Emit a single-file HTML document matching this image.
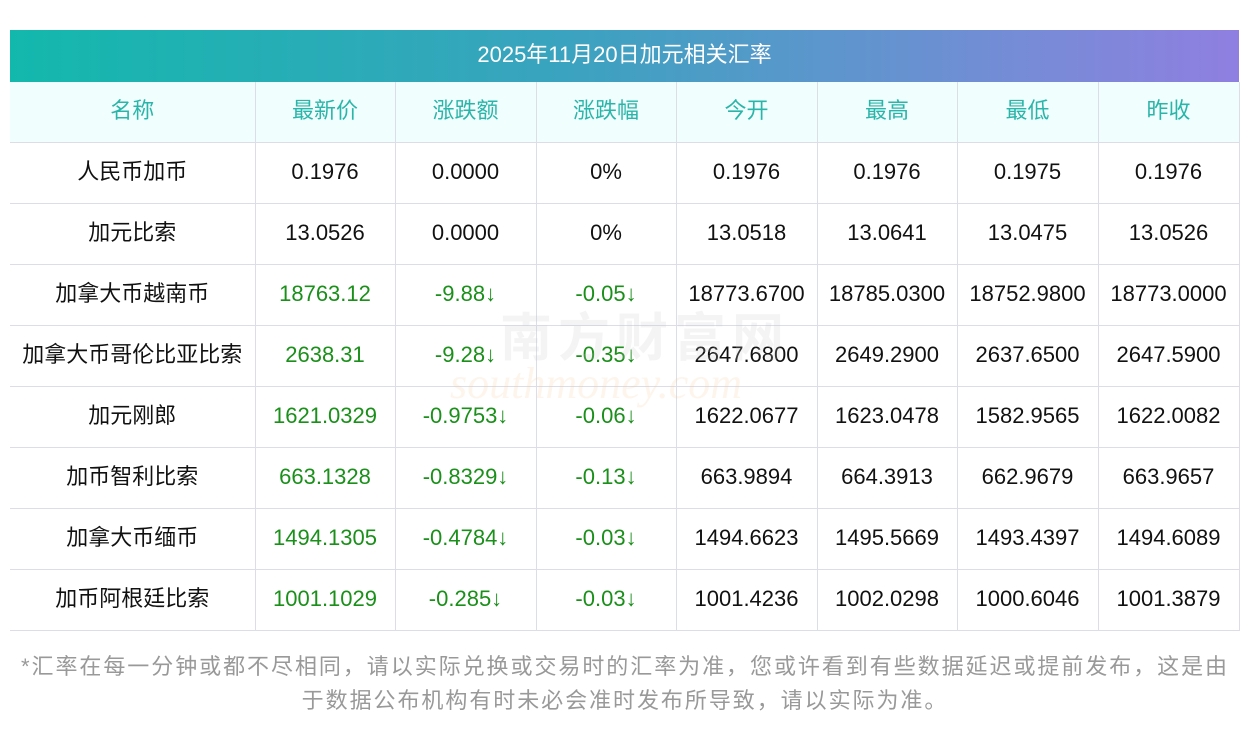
<!DOCTYPE html>
<html><head><meta charset="utf-8"><style>
body{margin:0;background:#fff;width:1250px;height:733px;overflow:hidden;font-family:"Liberation Sans","Noto Sans CJK SC",sans-serif;}
.title{position:absolute;left:10px;top:30px;width:1229px;height:52px;background:linear-gradient(90deg,#13b8ac,#3aa3bf 45%,#7a8ad8 85%,#8f7fe0);color:#fff;font-size:22px;line-height:50px;text-align:center;}
table{position:absolute;left:10px;top:82px;border-collapse:collapse;width:1229px;table-layout:fixed;}
td{height:58px;border-bottom:1px solid #dcdde6;border-right:1px solid #dcdde6;text-align:center;font-size:22px;color:#111;padding:0 0 2px 0;line-height:1;}
tr.h td{background:#f0fffe;color:#2bb5aa;}
.g{color:#1a8f1a;}
.note{position:absolute;left:0;top:650px;width:1250px;text-align:center;color:#999;font-size:22px;letter-spacing:1.95px;line-height:34px;}
.wm{position:absolute;left:500px;top:296px;font-size:52px;color:rgba(200,200,200,0.2);letter-spacing:6px;font-weight:bold;}
.wm2{position:absolute;left:450px;top:358px;font-size:44px;color:rgba(245,200,150,0.18);font-style:italic;font-family:"Liberation Serif",serif;}
</style></head><body>
<div class="title">2025年11月20日加元相关汇率</div>
<table>
<colgroup><col style="width:245px"><col style="width:140px"><col style="width:141px"><col style="width:140px"><col style="width:141px"><col style="width:140px"><col style="width:141px"><col style="width:141px"></colgroup>
<tr class="h"><td>名称</td><td>最新价</td><td>涨跌额</td><td>涨跌幅</td><td>今开</td><td>最高</td><td>最低</td><td>昨收</td></tr>
<tr><td>人民币加币</td><td>0.1976</td><td>0.0000</td><td>0%</td><td>0.1976</td><td>0.1976</td><td>0.1975</td><td>0.1976</td></tr>
<tr><td>加元比索</td><td>13.0526</td><td>0.0000</td><td>0%</td><td>13.0518</td><td>13.0641</td><td>13.0475</td><td>13.0526</td></tr>
<tr><td>加拿大币越南币</td><td class="g">18763.12</td><td class="g">-9.88↓</td><td class="g">-0.05↓</td><td>18773.6700</td><td>18785.0300</td><td>18752.9800</td><td>18773.0000</td></tr>
<tr><td>加拿大币哥伦比亚比索</td><td class="g">2638.31</td><td class="g">-9.28↓</td><td class="g">-0.35↓</td><td>2647.6800</td><td>2649.2900</td><td>2637.6500</td><td>2647.5900</td></tr>
<tr><td>加元刚郎</td><td class="g">1621.0329</td><td class="g">-0.9753↓</td><td class="g">-0.06↓</td><td>1622.0677</td><td>1623.0478</td><td>1582.9565</td><td>1622.0082</td></tr>
<tr><td>加币智利比索</td><td class="g">663.1328</td><td class="g">-0.8329↓</td><td class="g">-0.13↓</td><td>663.9894</td><td>664.3913</td><td>662.9679</td><td>663.9657</td></tr>
<tr><td>加拿大币缅币</td><td class="g">1494.1305</td><td class="g">-0.4784↓</td><td class="g">-0.03↓</td><td>1494.6623</td><td>1495.5669</td><td>1493.4397</td><td>1494.6089</td></tr>
<tr><td>加币阿根廷比索</td><td class="g">1001.1029</td><td class="g">-0.285↓</td><td class="g">-0.03↓</td><td>1001.4236</td><td>1002.0298</td><td>1000.6046</td><td>1001.3879</td></tr>
</table>
<div class="wm">南方财富网</div>
<div class="wm2">southmoney.com</div>
<div class="note">*汇率在每一分钟或都不尽相同，请以实际兑换或交易时的汇率为准，您或许看到有些数据延迟或提前发布，这是由<br>于数据公布机构有时未必会准时发布所导致，请以实际为准。</div>
</body></html>
